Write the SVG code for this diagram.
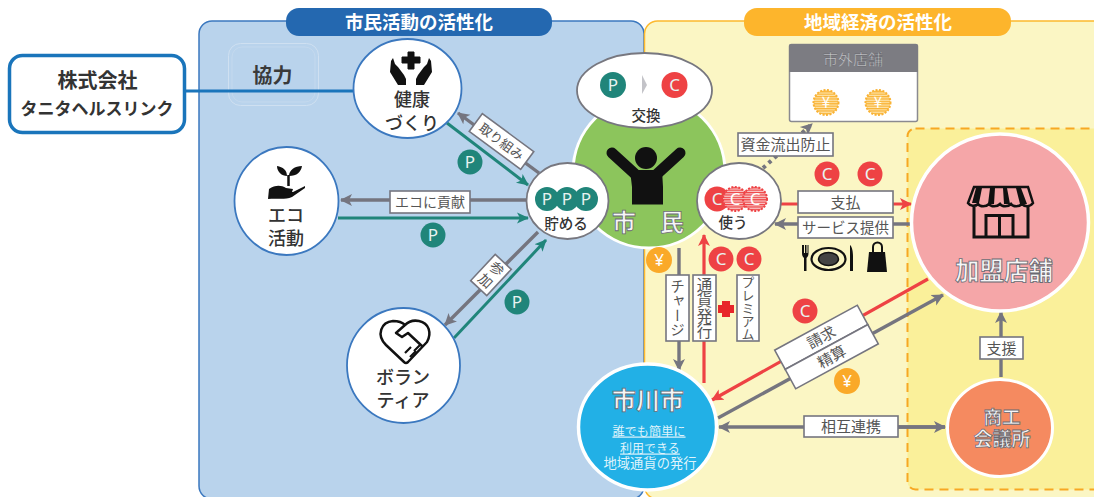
<svg xmlns="http://www.w3.org/2000/svg" width="1094" height="497" viewBox="0 0 1094 497">
<style>
text{font-family:"Noto Sans CJK JP","Noto Sans",sans-serif;text-anchor:middle}
.lb{fill:#fff;stroke:#75757f;stroke-width:1.6}
.lt{font-size:15px;fill:#555}
.vt{font-size:15px;fill:#555;writing-mode:vertical-rl;text-anchor:middle}
.node{font-size:18px;font-weight:500;fill:#333}
.out{fill:#f6f6f7;stroke:#6a6a72;stroke-width:.8;font-weight:700}
.g{stroke:#75757f;stroke-width:3.4;fill:none}
.t{stroke:#20857a;stroke-width:3;fill:none}
.r{stroke:#ee4244;stroke-width:3.2;fill:none}
.P{fill:#20857a}.C{fill:#ee4244}.Y{fill:#faa929}
.ct{font-size:17px;fill:#e8f3f1;font-family:"Noto Sans",sans-serif}
.wc{fill:#fff;stroke:#3b78bf;stroke-width:1.8}
.ge{fill:#fff;stroke:#77777f;stroke-width:1.8}
</style>
<defs>
<marker id="ag" markerUnits="userSpaceOnUse" markerWidth="14" markerHeight="14" refX="11" refY="7" orient="auto"><path d="M0 1 L12 7 L0 13 L3 7Z" fill="#75757f"/></marker>
<marker id="at" markerUnits="userSpaceOnUse" markerWidth="14" markerHeight="14" refX="11" refY="7" orient="auto"><path d="M0 1.500 L12 7 L0 12.500 L3 7Z" fill="#20857a"/></marker>
<marker id="ar" markerUnits="userSpaceOnUse" markerWidth="14" markerHeight="14" refX="11" refY="7" orient="auto"><path d="M0 1 L12 7 L0 13 L3 7Z" fill="#ee4244"/></marker>
<pattern id="hr" width="2" height="2.400" patternUnits="userSpaceOnUse"><rect width="2" height="2.400" fill="#f9c9c9"/><rect width="2" height="1.200" fill="#ee4244"/></pattern>
<pattern id="ho" width="2" height="2.400" patternUnits="userSpaceOnUse"><rect width="2" height="2.400" fill="#fde3a8"/><rect width="2" height="1.200" fill="#f9b233"/></pattern>
</defs>

<g id="panels">
<rect x="199" y="21" width="445" height="478" rx="13" fill="#b9d3ec" stroke="#3b78bf" stroke-width="1.500"/>
<rect x="644.500" y="21" width="470" height="478" rx="13" fill="#fbf6c4" stroke="#fdb92e" stroke-width="1.500"/>
<rect x="907.500" y="128.500" width="200" height="361" rx="8" fill="#faf09a" stroke="#f7a823" stroke-width="2" stroke-dasharray="9 6"/>
<rect x="286" y="8" width="266" height="28" rx="13" fill="#2468b0"/>
<text x="419" y="28.500" font-size="18.500" font-weight="700" fill="#fff">市民活動の活性化</text>
<rect x="744" y="8" width="267" height="28" rx="13" fill="#fdb52c"/>
<text x="878" y="28.500" font-size="18.500" font-weight="700" fill="#fff">地域経済の活性化</text>
<rect x="228.500" y="43.500" width="90" height="62" rx="12" fill="none" stroke="#cfe0f1" stroke-width="1"/>
<rect x="232" y="47" width="83" height="55" rx="10" fill="none" stroke="#c4d9ee" stroke-width="1"/>
<text x="272.500" y="83" font-size="20" font-weight="700" fill="#3a3a3a">協力</text>
</g>

<g id="connectors">
<path d="M185 91H355" stroke="#1a75bb" stroke-width="3" fill="none"/>
<path class="g" d="M539 173L458 113" marker-end="url(#ag)"/>
<path class="t" d="M447 123L528 185" marker-end="url(#at)"/>
<path class="g" d="M526 200H341" marker-end="url(#ag)"/>
<path class="t" d="M338 218H528" marker-end="url(#at)"/>
<path class="g" d="M538 232L445 325" marker-end="url(#ag)"/>
<path class="t" d="M454 338L546 240" marker-end="url(#at)"/>
<path class="g" d="M679 248V370" marker-end="url(#ag)"/>
<path class="r" d="M704 383V235" marker-end="url(#ar)"/>
<path class="r" d="M781 204H911" marker-end="url(#ar)"/>
<path class="g" d="M910 224H775" marker-end="url(#ag)"/>
<path d="M763 168L812 124" stroke="#75757f" stroke-width="4" stroke-dasharray="3.500 4" fill="none" marker-end="url(#ag)"/>
<path class="r" d="M928 279L712 400" marker-end="url(#ar)"/>
<path class="g" d="M718 418L943 295" marker-end="url(#ag)"/>
<path class="g" d="M945 427H719" marker-end="url(#ag)"/>
<path class="g" d="M806 427H945" marker-end="url(#ag)"/>
<path class="g" d="M1001 377V312" marker-end="url(#ag)"/>
</g>

<g id="tanita">
<rect x="9.500" y="55.500" width="175" height="77" rx="13" fill="#fff" stroke="#1a75bb" stroke-width="3.500"/>
<text x="97.500" y="88" font-size="20" font-weight="700" fill="#333">株式会社</text>
<text x="97" y="114.500" font-size="17" font-weight="700" fill="#333">タニタヘルスリンク</text>
</g>

<g id="health">
<ellipse class="wc" cx="407.500" cy="88.500" rx="54" ry="49.500"/>
<path d="M408 52h6v5h6v6h-6v6h-6v-6h-6v-6h6z" fill="#111" stroke="#111"/>
<path d="M393 58l2 6 3 3 6 8 2 4v6h-8l-8-13 1-11zM401 71l4 7M429 58l-2 6-3 3-6 8-2 4v6h8l8-13-1-11z" fill="#111"/>
<text class="node" x="412" y="105.500">健康</text>
<text class="node" x="412" y="130">づくり</text>
</g>

<g id="eco">
<ellipse class="wc" cx="286.500" cy="201" rx="52" ry="54"/>
<path d="M277 166c6 1 10 4 10 10 -5 0 -10 -4 -10 -10zM302 166c-1 6-5 10-13 10 0-6 6-10 13-10z" fill="#111"/>
<path d="M288.500 175v11" stroke="#111" stroke-width="2.500"/>
<path d="M268 199l1-10c6-4 12-4 17-1l7 1-1 3h-9l10 0 12-6 0 2-13 9c-7 3-15 1-24 2z" fill="#111"/>
<text class="node" x="286" y="222">エコ</text>
<text class="node" x="286" y="245">活動</text>
</g>

<g id="volunteer">
<ellipse class="wc" cx="403.500" cy="365.500" rx="56.500" ry="57.500"/>
<path d="M404 362L386 345C376 335 381 322 393 321C398 321 402 322 405 325C409 321 414 320 419 321C429 323 432 333 427 342L408 362C406 364 405 363 404 362ZM405 325L396 333L402 337L408 333L423 347" fill="none" stroke="#111" stroke-width="2.500" stroke-linejoin="round"/>
<path d="M405 353l6-6M410 357l6-6M414 351l6-6" stroke="#111" stroke-width="2.200"/>
<text class="node" x="403" y="384">ボラン</text>
<text class="node" x="403" y="407">ティア</text>
</g>

<g id="citizen">
<circle cx="649" cy="172" r="76" fill="#8cc55c" stroke="#fff" stroke-width="3"/>
<circle cx="646" cy="158" r="11" fill="#111"/>
<path d="M612 153L635 174M680 153L657 174" stroke="#111" stroke-width="11" stroke-linecap="round"/>
<path d="M630 170H662L663 187V204.500H632V187Z" fill="#111"/>
<text class="out" x="648" y="231" font-size="24">市　民</text>
</g>

<g id="exchange">
<ellipse class="ge" cx="644.500" cy="90.500" rx="67.500" ry="37.500"/>
<circle class="P" cx="613" cy="85" r="13"/><text class="ct" x="613" y="91">P</text>
<path d="M642 75L647 85L642 94Z" fill="#c3c3c8"/>
<circle class="C" cx="674.500" cy="85" r="13"/><text class="ct" x="674.500" y="91">C</text>
<text x="646" y="121" font-size="14.500" font-weight="500" fill="#333">交換</text>
</g>

<g id="save">
<ellipse class="ge" cx="567.500" cy="201" rx="41" ry="38"/>
<circle class="P" cx="547" cy="199" r="12"/><text class="ct" x="547" y="205">P</text>
<circle class="P" cx="567" cy="199" r="12"/><text class="ct" x="567" y="205">P</text>
<circle class="P" cx="586" cy="199" r="12"/><text class="ct" x="586" y="205">P</text>
<text x="566" y="229" font-size="14.500" font-weight="500" fill="#333">貯める</text>
</g>

<g id="use">
<ellipse class="ge" cx="739" cy="201" rx="42" ry="38"/>
<circle class="C" cx="717" cy="199" r="12.500"/><text class="ct" x="717" y="205">C</text>
<circle cx="735" cy="199" r="12" fill="url(#hr)" stroke="#ee4244" stroke-width="2" stroke-dasharray="2 1.500"/><text class="ct" x="735" y="205" style="fill:#fff">C</text>
<circle cx="755" cy="199" r="12" fill="url(#hr)" stroke="#ee4244" stroke-width="2" stroke-dasharray="2 1.500"/><text class="ct" x="755" y="205" style="fill:#fff">C</text>
<text x="733" y="228" font-size="14.500" font-weight="500" fill="#333">使う</text>
</g>

<g id="outside-shop">
<rect x="789.500" y="44.500" width="128" height="77" rx="2" fill="#fff" stroke="#8a8a90" stroke-width="1.500"/>
<path d="M789 72V46a2 2 0 0 1 2-2h125a2 2 0 0 1 2 2v26z" fill="#7c7c82"/>
<text x="853" y="65" font-size="15" fill="#c9c9cd" stroke="#55555c" stroke-width=".3">市外店舗</text>
<circle cx="826" cy="102.500" r="12.500" fill="url(#ho)" stroke="#f9b233" stroke-width="2" stroke-dasharray="2 1.500"/>
<text x="826" y="108" font-size="15" fill="#fff" font-family="Liberation Sans">¥</text>
<circle cx="878" cy="102.500" r="12.500" fill="url(#ho)" stroke="#f9b233" stroke-width="2" stroke-dasharray="2 1.500"/>
<text x="878" y="108" font-size="15" fill="#fff" font-family="Liberation Sans">¥</text>
</g>

<g id="city">
<ellipse cx="647.500" cy="427" rx="69" ry="63" fill="#22b0e6" stroke="#fff" stroke-width="3.500"/>
<text class="out" x="648" y="409" font-size="24">市川市</text>
<text x="649" y="435.500" font-size="12.200" fill="#dff3fb" text-decoration="underline">誰でも簡単に</text>
<text x="650" y="452.500" font-size="12" fill="#dff3fb" text-decoration="underline">利用できる</text>
<text x="650" y="468" font-size="13.300" fill="#dff3fb">地域通貨の発行</text>
</g>

<g id="store">
<circle cx="1000" cy="222.500" r="88.500" fill="#f5a6a8" stroke="#fff" stroke-width="3.500"/>
<path d="M974 207V237H1028V207" fill="none" stroke="#111" stroke-width="3"/>
<path d="M986 237V215.500H1013V237M999.500 215.500V237" fill="none" stroke="#111" stroke-width="3"/>
<path d="M974 187H1028L1033 203C1030 207 1025 207 1022 204C1019 207 1013 207 1011 204C1008 207 1002 207 1000 204C997 207 991 207 989 204C986 207 980 207 978 204C975 207 970 206 968 203Z" fill="#f5a6a8" stroke="#111" stroke-width="2.500"/>
<path d="M976 188L972 203H979L982 188ZM990 188L988 204H994L995 188ZM1003 188L1004 204H1010L1007 188ZM1016 188L1020 204H1027L1021 188Z" fill="#111"/>
<text class="out" x="1004" y="280" font-size="24.500">加盟店舗</text>
</g>

<g id="chamber">
<ellipse cx="1000" cy="428" rx="52.500" ry="48.500" fill="#f58a60" stroke="#fff" stroke-width="3"/>
<text class="out" x="1002" y="424" font-size="18.500">商工</text>
<text class="out" x="1002" y="446" font-size="19">会議所</text>
</g>

<g id="labels">
<g transform="translate(501.500 141.500) rotate(36.500)"><rect class="lb" x="-32" y="-11" width="64" height="22"/><text class="lt" y="5" style="font-size:13px">取り組み</text></g>
<rect class="lb" x="390" y="191" width="80" height="22"/><text class="lt" x="430" y="207" style="font-size:14px">エコに貢献</text>
<g transform="translate(491 275) rotate(43)"><rect class="lb" x="-11" y="-18" width="22" height="36"/><text class="lt" y="-3.500" style="font-size:14px">参</text><text class="lt" y="13" style="font-size:14px">加</text></g>
<rect class="lb" x="666" y="275" width="23" height="66"/><text class="vt" x="677.500" y="308" style="font-size:14.500px">チャージ</text>
<rect class="lb" x="693" y="275" width="23" height="66"/><text class="vt" x="704.500" y="308" style="font-size:15.500px">通貨発行</text>
<rect class="lb" x="737" y="275" width="22" height="66"/><text class="vt" x="748" y="308" style="font-size:13px">プレミアム</text>
<path d="M722 301h8v4h4v8h-4v4h-8v-4h-4v-8h4z" fill="#e8262a"/>
<rect class="lb" x="738" y="133" width="95" height="23"/><text class="lt" x="785.500" y="150">資金流出防止</text>
<rect class="lb" x="798" y="191" width="95" height="22"/><text class="lt" x="845.500" y="208">支払</text>
<rect class="lb" x="798" y="217" width="95" height="21"/><text class="lt" x="845.500" y="233" style="font-size:14.500px">サービス提供</text>
<g transform="translate(826.500 347) rotate(-28.500)"><rect class="lb" x="-47" y="-22" width="94" height="22"/><rect class="lb" x="-47" y="0" width="94" height="22"/><text class="lt" y="-5.500">請求</text><text class="lt" y="16.500">精算</text></g>
<rect class="lb" x="804" y="416" width="94" height="21"/><text class="lt" x="851" y="432">相互連携</text>
<rect class="lb" x="980" y="337" width="43" height="22"/><text class="lt" x="1001.500" y="353.500">支援</text>
</g>

<g id="coins">
<circle class="P" cx="470" cy="162" r="12.500"/><text class="ct" x="470" y="168">P</text>
<circle class="P" cx="433" cy="235" r="12.500"/><text class="ct" x="433" y="241">P</text>
<circle class="P" cx="517" cy="302" r="12.500"/><text class="ct" x="517" y="308">P</text>
<circle class="C" cx="827" cy="174" r="12.500"/><text class="ct" x="827" y="180">C</text>
<circle class="C" cx="870" cy="174" r="12.500"/><text class="ct" x="870" y="180">C</text>
<circle class="Y" cx="659" cy="260" r="13"/><text class="ct" x="659" y="266" style="fill:#fff">¥</text>
<circle class="C" cx="721" cy="259" r="12.500"/><text class="ct" x="721" y="265">C</text>
<circle class="C" cx="749" cy="259" r="12.500"/><text class="ct" x="749" y="265">C</text>
<circle class="C" cx="805" cy="311" r="12.500"/><text class="ct" x="805" y="317">C</text>
<circle class="Y" cx="847" cy="381" r="13"/><text class="ct" x="847" y="387" style="fill:#fff">¥</text>
</g>

<g id="service-icons">
<path d="M802 245v8c0 3 1 4 2 5v13h2.500v-13c1-1 2-2 2-5v-8h-1v8h-1v-8h-1.500v8h-1v-8z" fill="#111"/>
<ellipse cx="828.500" cy="259" rx="17" ry="11" fill="none" stroke="#111" stroke-width="2.200"/>
<ellipse cx="828.500" cy="259" rx="10" ry="6.500" fill="#444" stroke="#111" stroke-width="1.500"/>
<path d="M850 271V245c2.500 2 3 8 3 12v14z" fill="#111"/>
<path d="M867 272L869 252H885L887 272Z" fill="#111"/>
<path d="M873 254V247a4.500 4.500 0 0 1 9 0v7" fill="none" stroke="#111" stroke-width="2"/>
</g>
</svg>
